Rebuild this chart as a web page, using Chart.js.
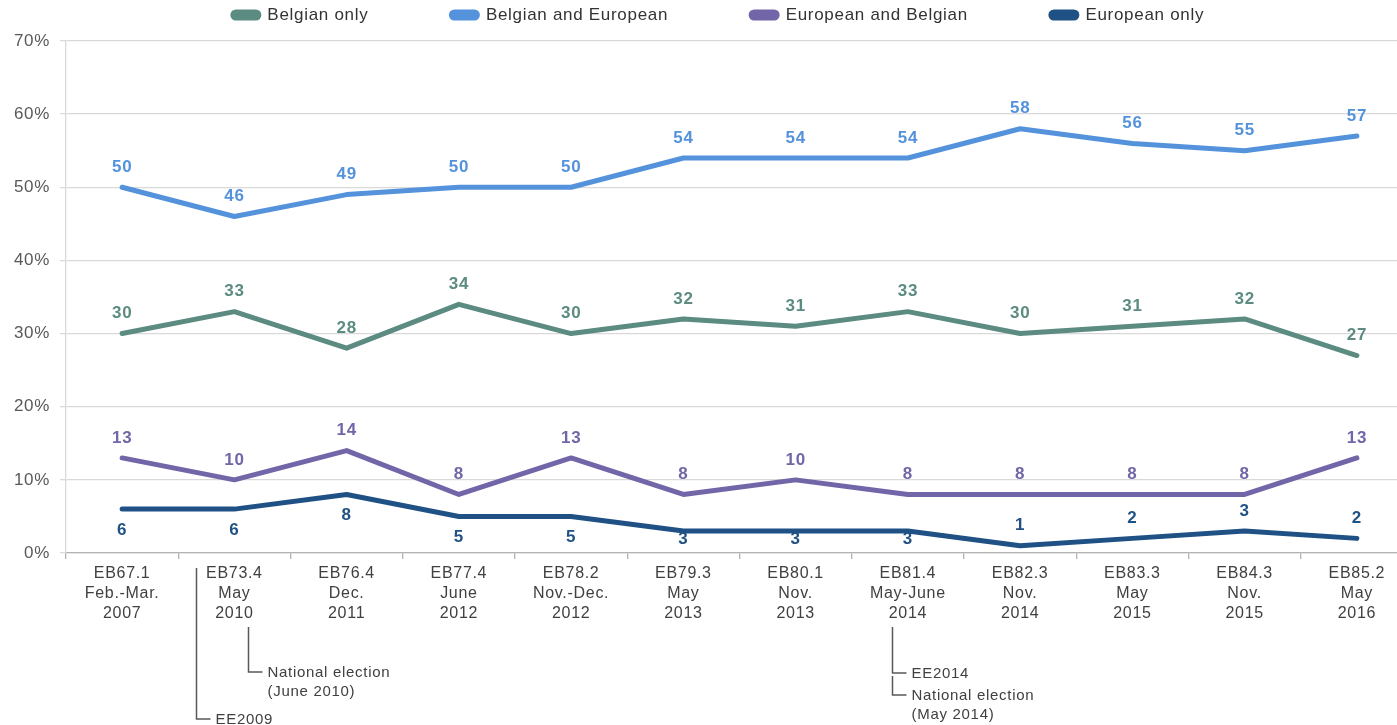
<!DOCTYPE html>
<html>
<head>
<meta charset="utf-8">
<script src="https://cdn.jsdelivr.net/npm/chart.js@4/dist/chart.umd.min.js"></script>
<style>
  html, body { margin: 0; padding: 0; background: #fff; overflow: hidden; }
  #wrap { position: relative; width: 1413px; height: 725px; }
</style>
</head>
<body>
<div id="wrap"><canvas id="chart"></canvas></div>
<script>
// survey waves (x axis)
const waves = [
  ['EB67.1', 'Feb.-Mar.', '2007'],
  ['EB73.4', 'May', '2010'],
  ['EB76.4', 'Dec.', '2011'],
  ['EB77.4', 'June', '2012'],
  ['EB78.2', 'Nov.-Dec.', '2012'],
  ['EB79.3', 'May', '2013'],
  ['EB80.1', 'Nov.', '2013'],
  ['EB81.4', 'May-June', '2014'],
  ['EB82.3', 'Nov.', '2014'],
  ['EB83.3', 'May', '2015'],
  ['EB84.3', 'Nov.', '2015'],
  ['EB85.2', 'May', '2016']
];

const seriesNames = ['Belgian only', 'Belgian and European', 'European and Belgian', 'European only'];

const belgianOnly        = [30, 33, 28, 34, 30, 32, 31, 33, 30, 31, 32, 27];
const belgianAndEuropean = [50, 46, 49, 50, 50, 54, 54, 54, 58, 56, 55, 57];
const europeanAndBelgian = [13, 10, 14, 8, 13, 8, 10, 8, 8, 8, 8, 13];
const europeanOnly       = [6, 6, 8, 5, 5, 3, 3, 3, 1, 2, 3, 2];

const yTicks = [0, 10, 20, 30, 40, 50, 60, 70];

const colors = ['#5b8b81', '#5592dc', '#7265a8', '#1f5185'];

// events marked under the axis: position in category units, label lines
const events = [
  { at: 0.66, top: 568, lines: [{ y: 719, text: ['EE2009'] }] },
  { at: 1.12, top: 627, lines: [{ y: 672, text: ['National election', '(June 2010)'] }] },
  { at: 6.86, top: 627, lines: [{ y: 673, text: ['EE2014'] }, { y: 695, text: ['National election', '(May 2014)'] }] }
];

const FONT = '"Liberation Sans", Arial, sans-serif';
const SPACING = '0.7px';

// the original text is set a little wider than plain Arial
const spacing = {
  id: 'spacing',
  beforeUpdate(chart) { chart.ctx.letterSpacing = SPACING; },
  beforeLayout(chart) { chart.ctx.letterSpacing = SPACING; },
  beforeDraw(chart) { chart.ctx.letterSpacing = SPACING; }
};

const valueLabels = {
  id: 'valueLabels',
  afterDatasetsDraw(chart) {
    const ctx = chart.ctx;
    const bottom = chart.chartArea.bottom;
    ctx.save();
    ctx.font = 'bold 17px ' + FONT;
    ctx.textAlign = 'center';
    ctx.textBaseline = 'middle';
    chart.data.datasets.forEach((ds, i) => {
      const meta = chart.getDatasetMeta(i);
      ctx.fillStyle = ds.borderColor;
      meta.data.forEach((pt, j) => {
        let y;
        if (ds.labelBelowUntil !== undefined && j < ds.labelBelowUntil) {
          y = Math.min(pt.y + 21, bottom - 14);
        } else {
          y = pt.y - 20;
        }
        ctx.fillText(ds.data[j], pt.x, y);
      });
    });
    ctx.restore();
  }
};

const eventMarks = {
  id: 'eventMarks',
  afterDraw(chart) {
    const ctx = chart.ctx;
    const x = chart.scales.x;
    ctx.save();
    ctx.strokeStyle = '#595959';
    ctx.lineWidth = 1.5;
    ctx.fillStyle = '#404040';
    ctx.font = '15px ' + FONT;
    ctx.textBaseline = 'middle';
    events.forEach(ev => {
      const px = Math.round(x.getPixelForValue(ev.at)) + 0.5;
      let top = ev.top;
      ev.lines.forEach((ln, k) => {
        ctx.beginPath();
        ctx.moveTo(px, k === 0 ? top : top + 3);
        ctx.lineTo(px, ln.y);
        ctx.lineTo(px + 14, ln.y);
        ctx.stroke();
        ln.text.forEach((t, n) => ctx.fillText(t, px + 19, ln.y + 1 + n * 19));
        top = ln.y;
      });
    });
    ctx.restore();
  }
};

// move the legend to where the original has it
const legendPlace = {
  id: 'legendPlace',
  afterLayout(chart) {
    const lg = chart.legend;
    const lab = lg.options.labels;
    const h = lg.bottom - lg.top;
    lg.left += 12; lg.right += 12;
    lg.top = 15 - lab.padding - lab.font.size / 2;
    lg.bottom = lg.top + h;
  }
};

Chart.defaults.font.family = FONT;

new Chart(document.getElementById('chart'), {
  type: 'line',
  data: {
    labels: waves,
    datasets: [
      { label: seriesNames[0], data: belgianOnly, borderColor: colors[0], backgroundColor: colors[0] },
      { label: seriesNames[1], data: belgianAndEuropean, borderColor: colors[1], backgroundColor: colors[1] },
      { label: seriesNames[2], data: europeanAndBelgian, borderColor: colors[2], backgroundColor: colors[2] },
      { label: seriesNames[3], data: europeanOnly, borderColor: colors[3], backgroundColor: colors[3], labelBelowUntil: 8 }
    ]
  },
  options: {
    responsive: true,
    maintainAspectRatio: false,
    animation: false,
    layout: { padding: { top: -69, left: 0, right: 0, bottom: 0 } },
    elements: {
      line: { borderWidth: 5, tension: 0, borderCapStyle: 'round', borderJoinStyle: 'round' },
      point: { radius: 0, hoverRadius: 0 }
    },
    plugins: {
      tooltip: { enabled: false },
      legend: {
        position: 'top',
        labels: {
          boxWidth: 26,
          boxHeight: 6,
          useBorderRadius: true,
          borderRadius: 3,
          padding: 83,
          color: '#333333',
          font: { size: 17 }
        }
      }
    },
    scales: {
      x: {
        offset: true,
        grid: { drawOnChartArea: false, offset: true, tickLength: 6, color: '#b3b3b3', lineWidth: 1.3 },
        border: { color: '#b3b3b3', width: 1.3 },
        ticks: { autoSkip: false, maxRotation: 0, padding: 5, color: '#404040', font: { size: 16, lineHeight: 1.25 } },
        afterFit: s => { s.height = 172; }
      },
      y: {
        min: 0,
        max: 70,
        afterBuildTicks: s => { s.ticks = yTicks.map(v => ({ value: v })); },
        grid: { color: '#d9d9d9', lineWidth: 1.3, tickLength: 6 },
        border: { color: '#d9d9d9', width: 1.3 },
        ticks: { padding: 10, color: '#595959', font: { size: 17 }, callback: v => v + '%' },
        afterFit: s => { s.width = 66; }
      }
    }
  },
  plugins: [spacing, valueLabels, eventMarks, legendPlace]
});
</script>
</body>
</html>
